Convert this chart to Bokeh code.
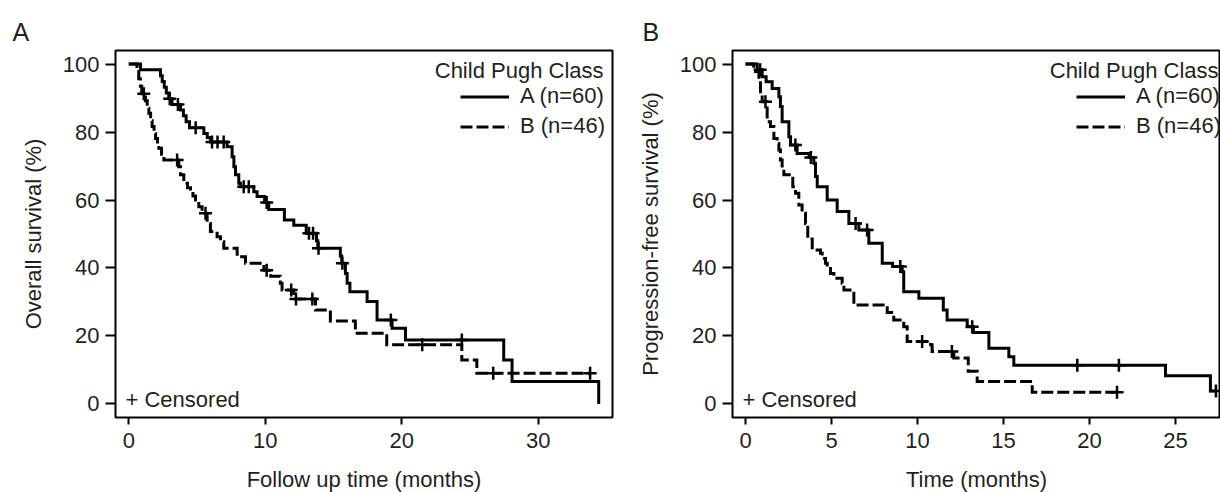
from bokeh.plotting import figure
from bokeh.models import Range1d, Label, Legend, LegendItem, FixedTicker
from bokeh.layouts import row
from bokeh.embed import file_html
from bokeh.resources import INLINE

FONT = "Liberation Sans"
TXT = "#231f20"

# ---------------- Panel A: overall survival ----------------
os_a_time = [0, 0.86, 2.32, 2.45, 2.6, 2.75, 2.93, 3.17, 3.79, 4.0, 4.2, 4.45, 5.5, 5.75, 5.98,
             7.2, 7.57, 7.7, 7.82, 8.06, 8.18, 9.16, 9.4, 9.95, 10.25, 11.4, 12.09, 13.0, 13.75,
             13.85, 15.5, 15.6, 15.87, 16.0, 16.2, 17.46, 18.19, 19.29, 20.27, 27.47, 28.08, 34.43]
os_a_surv = [100, 98.3, 96.6, 94.9, 93.2, 91.5, 89.8, 88.1, 86.5, 84.8, 83.0, 81.3, 79.6, 78.4, 77.1,
             75.7, 72.7, 69.8, 67.4, 64.9, 63.9, 62.4, 61.0, 59.3, 57.2, 54.1, 52.6, 50.2, 48.0,
             45.8, 43.5, 41.4, 38.4, 35.5, 33.0, 30.1, 24.7, 22.3, 18.8, 12.9, 6.6, 0]
os_a_cens = [3.0, 3.6, 4.9, 6.1, 6.5, 6.95, 8.42, 8.79, 10.1, 13.2, 13.5, 13.9, 15.65, 19.2, 24.4]
os_a_end = 34.43

os_b_time = [0, 0.6, 0.73, 0.85, 0.95, 1.22, 1.35, 1.47, 1.6, 1.71, 1.85, 1.96, 2.1, 2.2, 2.4, 2.57,
             3.66, 3.79, 4.03, 4.3, 4.52, 4.7, 4.89, 5.13, 5.37, 5.74, 5.98, 6.47, 6.72, 6.96, 7.94,
             8.55, 9.9, 10.4, 11.1, 11.23, 12.09, 13.68, 14.77, 16.6, 18.9, 24.4, 25.5]
os_b_surv = [100, 97.8, 95.7, 93.5, 91.3, 89.2, 87.0, 85.5, 83.3, 81.6, 79.6, 78.1, 76.5, 75.2, 73.5, 71.8,
             69.8, 67.4, 64.9, 63.6, 62.4, 61.2, 60.0, 58.0, 56.1, 53.1, 50.7, 49.2, 47.7, 45.8, 43.3,
             41.4, 39.3, 37.6, 35.5, 33.5, 30.9, 27.6, 24.4, 20.8, 17.4, 12.9, 9.0]
os_b_cens = [1.1, 3.54, 5.62, 10.1, 11.9, 12.25, 13.45, 21.5, 26.7, 33.8]
os_b_end = 33.8

# ---------------- Panel B: progression-free survival ----------------
pfs_a_time = [0, 0.68, 0.97, 1.2, 1.55, 1.94, 2.03, 2.13, 2.52, 2.62, 3.0, 3.7, 3.97, 4.07, 4.17,
              4.75, 5.33, 6.01, 6.59, 7.17, 7.95, 8.55, 9.11, 9.2, 10.08, 11.5, 11.72, 12.89, 13.25,
              14.15, 15.31, 15.6, 24.42, 27.03]
pfs_a_surv = [100, 98.3, 96.3, 94.8, 92.8, 90.4, 87.5, 83.0, 78.6, 76.2, 73.7, 72.5, 70.8, 66.9, 63.9,
              60.0, 56.6, 53.1, 51.2, 47.3, 41.4, 40.4, 38.9, 33.0, 31.1, 27.6, 24.7, 22.7, 21.0,
              16.4, 13.9, 11.4, 8.3, 3.8]
pfs_a_cens = [0.85, 2.9, 3.8, 6.4, 7.07, 9.0, 13.18, 19.29, 21.71, 27.35]
pfs_a_end = 27.35

pfs_b_time = [0, 0.48, 0.78, 0.87, 0.97, 1.26, 1.45, 1.65, 1.84, 1.94, 2.03, 2.13, 2.23, 2.75, 2.91,
              3.1, 3.29, 3.49, 3.62, 3.88, 4.36, 4.46, 4.65, 4.75, 4.94, 5.14, 5.62, 5.72, 6.3, 8.24,
              8.62, 9.2, 9.4, 10.76, 10.85, 12.11, 12.95, 13.47, 16.67]
pfs_b_surv = [100, 97.8, 95.7, 91.4, 88.9, 83.0, 81.6, 78.1, 76.6, 74.7, 71.8, 69.3, 67.4, 63.9, 62.0,
              58.5, 56.1, 53.1, 48.5, 45.3, 44.3, 42.8, 41.4, 40.4, 38.4, 37.0, 35.5, 33.5, 29.1, 26.9,
              24.7, 22.7, 18.4, 17.4, 15.4, 13.5, 9.6, 6.6, 3.4]
pfs_b_cens = [1.16, 10.27, 12.0, 21.6]
pfs_b_end = 21.6

group_labels = ["A (n=60)", "B (n=46)"]
legend_title = "Child Pugh Class"
y_ticks = [0, 20, 40, 60, 80, 100]
os_x_ticks = [0, 10, 20, 30]
pfs_x_ticks = [0, 5, 10, 15, 20, 25]


def km_value(times, surv, t):
    v = surv[0]
    for tt, s in zip(times, surv):
        if tt <= t:
            v = s
    return v


def add_curve(p, times, surv, cens, end, dash):
    xs = list(times)
    ys = list(surv)
    if end > xs[-1]:
        xs.append(end)
        ys.append(ys[-1])
    r = p.step(xs, ys, mode="after", line_color="black", line_width=3,
               line_dash=dash, line_join="miter")
    cy = [km_value(times, surv, t) for t in cens]
    p.scatter(cens, cy, marker="cross", size=13, line_color="black", line_width=2.5)
    return r


def make_panel(xr, xticks, xlabel, ylabel, tag, tag_x, curves, border_left, frame_w,
               border_right, legend_x, title_right):
    p = figure(frame_width=frame_w, frame_height=367,
               min_border_left=border_left, min_border_right=border_right,
               min_border_top=50, min_border_bottom=75,
               x_range=Range1d(*xr), y_range=Range1d(-4, 104),
               output_backend="svg", toolbar_location=None)
    p.xgrid.visible = False
    p.ygrid.visible = False
    p.outline_line_color = "black"
    p.outline_line_width = 2
    p.background_fill_color = "white"
    p.border_fill_color = "white"

    p.title.text = tag
    p.title.align = "left"
    p.title.offset = tag_x
    p.title.standoff = 10
    p.title.text_font = FONT
    p.title.text_font_size = "25px"
    p.title.text_font_style = "normal"
    p.title.text_color = TXT

    p.xaxis.ticker = FixedTicker(ticks=xticks)
    p.yaxis.ticker = FixedTicker(ticks=y_ticks)
    p.xaxis.axis_label = xlabel
    p.yaxis.axis_label = ylabel
    for ax in (p.xaxis[0], p.yaxis[0]):
        ax.axis_line_color = None
        ax.major_tick_line_color = "black"
        ax.major_tick_line_width = 2
        ax.major_tick_in = 0
        ax.minor_tick_line_color = None
        ax.major_label_text_font = FONT
        ax.major_label_text_font_size = "22px"
        ax.major_label_text_color = TXT
        ax.axis_label_text_font = FONT
        ax.axis_label_text_font_size = "22px"
        ax.axis_label_text_font_style = "normal"
        ax.axis_label_text_color = TXT
    p.xaxis.major_tick_out = 7
    p.yaxis.major_tick_out = 10
    p.xaxis.major_label_standoff = 8
    p.yaxis.major_label_standoff = 6
    p.xaxis.axis_label_standoff = 16
    p.yaxis.axis_label_standoff = 14

    renderers = []
    for (times, surv, cens, end, dash) in curves:
        renderers.append(add_curve(p, times, surv, cens, end, dash))

    leg = Legend(items=[LegendItem(label=group_labels[0], renderers=[renderers[0]]),
                        LegendItem(label=group_labels[1], renderers=[renderers[1]])],
                 location=(legend_x, 278), padding=0, margin=0, spacing=4,
                 glyph_width=49, glyph_height=25, label_height=25, label_standoff=11,
                 label_text_font=FONT, label_text_font_size="22px", label_text_color=TXT,
                 border_line_color=None, background_fill_alpha=0)
    p.add_layout(leg)

    p.add_layout(Label(x=title_right, y=347, x_units="screen", y_units="screen",
                       text=legend_title, text_align="right", text_baseline="middle",
                       text_font=FONT, text_font_size="22px", text_color=TXT))
    p.add_layout(Label(x=10, y=18, x_units="screen", y_units="screen",
                       text="+ Censored", text_align="left", text_baseline="middle",
                       text_font=FONT, text_font_size="22px", text_color=TXT))
    return p


pA = make_panel((-0.974, 35.44), os_x_ticks, "Follow up time (months)", "Overall survival (%)",
                "A", -103,
                [(os_a_time, os_a_surv, os_a_cens, os_a_end, "solid"),
                 (os_b_time, os_b_surv, os_b_cens, os_b_end, "12 4")],
                115, 497, 4, 345, 488)

pB = make_panel((-0.756, 27.616), pfs_x_ticks, "Time (months)", "Progression-free survival (%)",
                "B", -90,
                [(pfs_a_time, pfs_a_surv, pfs_a_cens, pfs_a_end, "solid"),
                 (pfs_b_time, pfs_b_surv, pfs_b_cens, pfs_b_end, "12 4")],
                116, 488, 0, 344, 486)

layout = row(pA, pB)
open("out.html", "w").write(file_html(layout, INLINE))
